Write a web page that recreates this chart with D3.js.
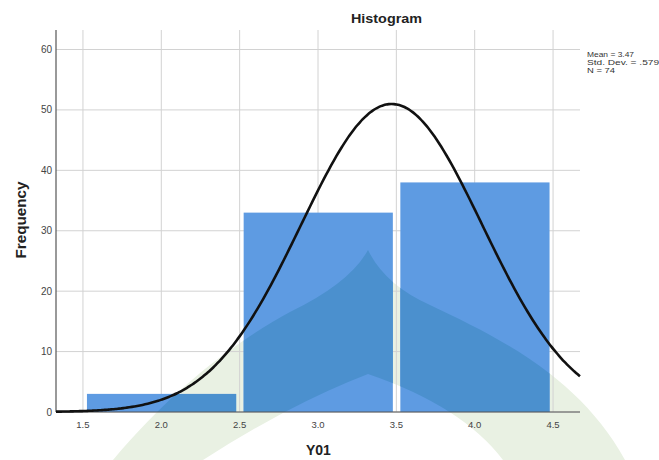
<!DOCTYPE html>
<html><head><meta charset="utf-8">
<script src="https://cdn.jsdelivr.net/npm/d3@7"></script>
<style>
html,body{margin:0;padding:0;background:#fff;}
svg{display:block;font-family:"Liberation Sans",Arial,sans-serif;}
</style></head>
<body><svg id="c" width="659" height="460"></svg>
<script>
// ---- data ----
const binStarts = [1.5, 2.5, 3.5];
const binEnds   = [2.5, 3.5, 4.5];
const counts    = [3, 33, 38];
const xTicks    = [1.5, 2.0, 2.5, 3.0, 3.5, 4.0, 4.5];
const yTicks    = [0, 10, 20, 30, 40, 50, 60];
const statLines = ["Mean = 3.47", "Std. Dev. = .579", "N = 74"];
const statMean = 3.47, statSd = 0.579, statN = 74;

const svg = d3.select("#c");
const x = d3.scaleLinear().domain([1.328, 4.672]).range([56, 580]);
const y = d3.scaleLinear().domain([0, 60]).range([412, 49.5]);
const plotTop = 30;

// watermark (decorative background)
const wm = "M113,460 C170,392 230,345 290,312 Q350,283 368,250 Q385,285 430,305 C500,338 580,378 625,460 L503,460 Q462,406 368,374 Q290,404 203,460 Z";
svg.append("path").attr("d", wm).attr("fill", "#E9F1E3");

// grid
svg.append("g").selectAll("line").data(yTicks).join("line")
  .attr("x1", x.range()[0]).attr("x2", x.range()[1])
  .attr("y1", d => y(d)).attr("y2", d => y(d))
  .attr("stroke", "#D2D2D2").attr("stroke-width", 1);
svg.append("g").selectAll("line").data(xTicks).join("line")
  .attr("x1", d => x(d)).attr("x2", d => x(d))
  .attr("y1", plotTop).attr("y2", y(0))
  .attr("stroke", "#D2D2D2").attr("stroke-width", 1);

// bars
const bars = binStarts.map((s, i) => ({s, e: binEnds[i], c: counts[i]}));
const defs = svg.append("defs");
const cp = defs.append("clipPath").attr("id", "barclip");
cp.selectAll("rect").data(bars).join("rect")
  .attr("x", d => x(d.s) + 4).attr("width", d => x(d.e) - x(d.s) - 7.5)
  .attr("y", d => y(d.c)).attr("height", d => y(0) - y(d.c));
svg.append("g").selectAll("rect").data(bars).join("rect")
  .attr("x", d => x(d.s) + 4).attr("width", d => x(d.e) - x(d.s) - 7.5)
  .attr("y", d => y(d.c)).attr("height", d => y(0) - y(d.c))
  .attr("fill", "#5E9BE2");
svg.append("path").attr("d", wm).attr("fill", "#4B90CE").attr("clip-path", "url(#barclip)");

// axes lines
svg.append("line").attr("x1", 56).attr("x2", 56).attr("y1", plotTop).attr("y2", y(0))
  .attr("stroke", "#555").attr("stroke-width", 1.2);
svg.append("line").attr("x1", 56).attr("x2", 580).attr("y1", y(0)).attr("y2", y(0))
  .attr("stroke", "#555").attr("stroke-width", 1.2);

// normal curve
const bw = binEnds[0] - binStarts[0];
const pdf = v => statN * bw * Math.exp(-0.5 * ((v - statMean) / statSd) ** 2) / (statSd * Math.sqrt(2 * Math.PI));
const xs = d3.range(0, 201).map(i => x.domain()[0] + (x.domain()[1] - x.domain()[0]) * i / 200);
svg.append("path").datum(xs)
  .attr("d", d3.line().x(d => x(d)).y(d => y(pdf(d))).curve(d3.curveBasis))
  .attr("fill", "none").attr("stroke", "#111").attr("stroke-width", 2.6);

// tick labels
svg.append("g").selectAll("text").data(yTicks).join("text")
  .attr("x", 52).attr("y", d => y(d) + 3.5).attr("text-anchor", "end")
  .attr("font-size", 10).attr("fill", "#444").text(d => d);
svg.append("g").selectAll("text").data(xTicks).join("text")
  .attr("x", d => x(d)).attr("y", 428).attr("text-anchor", "middle")
  .attr("font-size", 9.5).attr("fill", "#444").text(d => d.toFixed(1));

// titles
svg.append("text").attr("x", 351).attr("y", 23).attr("font-size", 13).attr("font-weight", "bold")
  .attr("fill", "#222").attr("textLength", 71).attr("lengthAdjust", "spacingAndGlyphs").text("Histogram");
svg.append("text").attr("x", 306).attr("y", 455).attr("font-size", 14).attr("font-weight", "bold")
  .attr("fill", "#222").text("Y01");
svg.append("text").attr("transform", "translate(26,220) rotate(-90)").attr("text-anchor", "middle")
  .attr("font-size", 14).attr("font-weight", "bold").attr("fill", "#222")
  .attr("textLength", 77).attr("lengthAdjust", "spacingAndGlyphs").text("Frequency");

// stats legend
const lens = [47, 72, 28];
svg.append("g").selectAll("text").data(statLines).join("text")
  .attr("x", 587).attr("y", (d, i) => 56.5 + i * 8.4)
  .attr("font-size", 7.4).attr("fill", "#333")
  .attr("textLength", (d, i) => lens[i]).attr("lengthAdjust", "spacingAndGlyphs")
  .text(d => d);
</script></body></html>
